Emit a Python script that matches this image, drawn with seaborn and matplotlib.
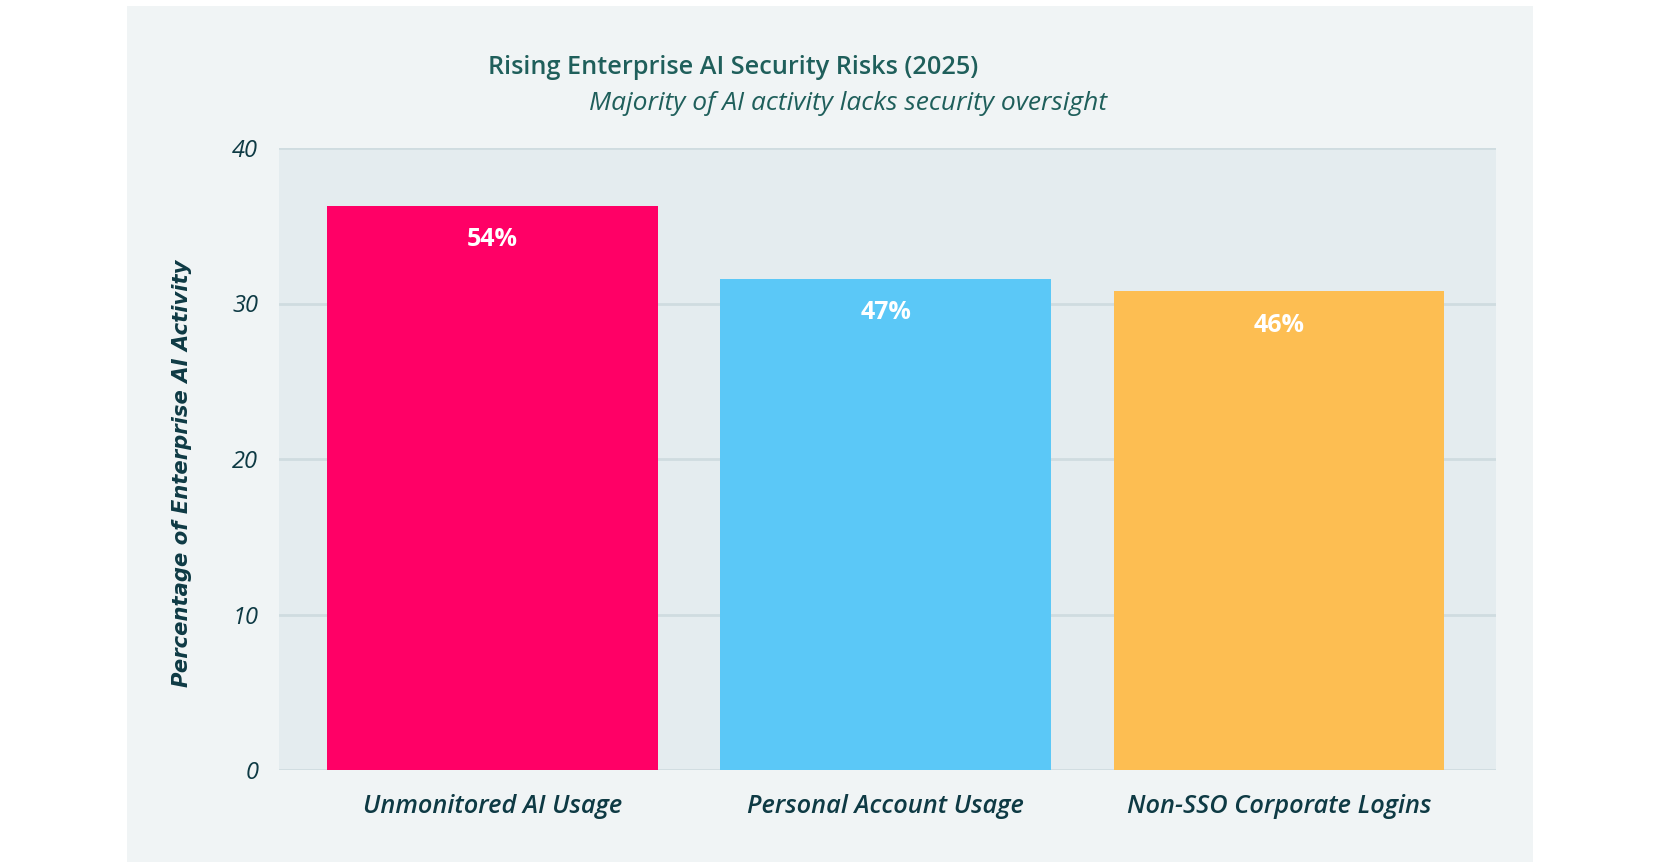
import pandas as pd
import matplotlib.pyplot as plt
from matplotlib.patches import Rectangle
import seaborn as sns

# Dados do gráfico
categorias = ['Unmonitored AI Usage', 'Personal Account Usage', 'Non-SSO Corporate Logins']
valores = [36.3, 31.6, 30.8]
rotulos = ['54%', '47%', '46%']
cores = ['#FF0066', '#5BC8F7', '#FDBE52']
y_ticks = [0, 10, 20, 30, 40]

df = pd.DataFrame({'categoria': categorias, 'valor': valores})

sns.set_theme(style='white')
plt.rcParams['font.family'] = ['Open Sans', 'DejaVu Sans']

fig = plt.figure(figsize=(16.6, 8.68), dpi=100)
fig.patch.set_facecolor('white')

# Painel de fundo
fig.patches.append(Rectangle((127 / 1660, 1 - 862 / 868), (1533 - 127) / 1660, (862 - 6) / 868,
                             transform=fig.transFigure, facecolor='#F0F4F5',
                             edgecolor='none', zorder=-5))

ax = fig.add_axes([279 / 1660, 1 - 770 / 868, (1496 - 279) / 1660, (770 - 148) / 868])
ax.set_facecolor('#E4ECEF')

sns.barplot(data=df, x='categoria', y='valor', hue='categoria', palette=cores,
            width=0.84, saturation=1, legend=False, ax=ax, zorder=3, linewidth=0)

ax.set_xlim(-0.542, 2.551)
ax.set_ylim(0, 40)
ax.set_yticks(y_ticks)
ax.grid(axis='y', color='#CFDCE0', linewidth=2, zorder=0)
ax.set_axisbelow(True)
for s in ax.spines.values():
    s.set_visible(False)
ax.tick_params(axis='both', length=0)
ax.tick_params(axis='y', pad=15)
ax.tick_params(axis='x', pad=17)

for lab in ax.get_yticklabels():
    lab.set_fontstyle('italic')
    lab.set_fontsize(17)
    lab.set_color('#0E3A44')
for lab in ax.get_xticklabels():
    lab.set_fontstyle('italic')
    lab.set_fontweight('semibold')
    lab.set_fontsize(18.3)
    lab.set_color('#0E3A44')

ax.set_xlabel('')
ax.set_ylabel('Percentage of Enterprise AI Activity', fontsize=15.2, fontweight='bold',
              fontstyle='italic', color='#0E3A44', family=['DejaVu Sans'])
ax.yaxis.set_label_coords(-0.0715, 0.4775)

# Rótulos dentro das barras
for i, (v, r) in enumerate(zip(valores, rotulos)):
    ax.text(i, v - 2.2, r, ha='center', va='center', color='white',
            fontsize=18, fontweight='bold')

fig.text(488 / 1660, 1 - 68 / 868, 'Rising Enterprise AI Security Risks (2025)',
         ha='left', va='center', fontsize=18.2, fontweight='semibold', color='#1F5F5B')
fig.text(589 / 1660, 1 - 104 / 868, 'Majority of AI activity lacks security oversight',
         ha='left', va='center', fontsize=19, fontstyle='italic', color='#1F5F5B')

fig.savefig('out.png', dpi=100, facecolor=fig.get_facecolor())
